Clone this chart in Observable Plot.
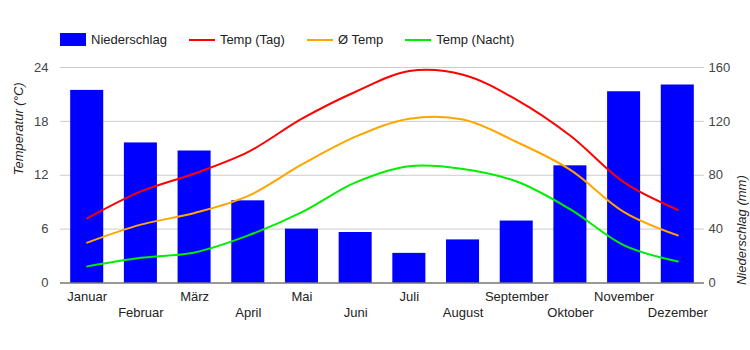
<!DOCTYPE html>
<html>
<head>
<meta charset="utf-8">
<script src="https://cdn.jsdelivr.net/npm/d3@7"></script>
<script src="https://cdn.jsdelivr.net/npm/@observablehq/plot@0.6"></script>
<style>
  body { margin: 0; background: #fff; font-family: Arial, "Liberation Sans", sans-serif; }
  #legend { position: relative; height: 50px; width: 750px; }
  #legend .row { position: absolute; left: 60px; top: 30px; height: 19px; display: flex; align-items: center; gap: 22px; font-size: 13px; color: #222; }
  #legend .item { display: flex; align-items: center; gap: 5px; }
  #legend .sw-rect { width: 26px; height: 13px; }
  #legend .sw-line { width: 26px; height: 2px; }
</style>
</head>
<body>
<div id="legend"><div class="row"></div></div>
<div id="chart"></div>
<script>
const months = ["Januar","Februar","März","April","Mai","Juni","Juli","August","September","Oktober","November","Dezember"];
const precip = [143, 104, 98, 61, 40, 37.5, 22, 32, 46, 87, 142, 147];
const tempDay = [7.2, 10.2, 12.2, 14.6, 18.3, 21.3, 23.6, 23.2, 20.4, 16.4, 11.2, 8.15];
const tempAvg = [4.5, 6.5, 7.8, 9.7, 13.2, 16.3, 18.3, 18.2, 15.7, 12.6, 7.9, 5.3];
const tempNight = [1.85, 2.8, 3.4, 5.3, 7.9, 11.2, 13.0, 12.7, 11.3, 8.2, 4.2, 2.4];
const tempTicks = [0, 6, 12, 18, 24];
const precipMax = 160;
const tempMax = 24;

const seriesNames = ["Niederschlag", "Temp (Tag)", "Ø Temp", "Temp (Nacht)"];
const seriesColors = ["#0000ff", "#ff0000", "#ffa500", "#00ee00"];

const rows = months.map((m, i) => ({month: m, precip: precip[i], day: tempDay[i], avg: tempAvg[i], night: tempNight[i]}));
const toTemp = v => v * tempMax / precipMax;

// legend
const row = document.querySelector("#legend .row");
seriesNames.forEach((name, i) => {
  const item = document.createElement("div");
  item.className = "item";
  const sw = document.createElement("div");
  sw.className = i === 0 ? "sw-rect" : "sw-line";
  sw.style.background = seriesColors[i];
  const t = document.createElement("span");
  t.textContent = name;
  item.append(sw, t);
  row.append(item);
});

const chart = Plot.plot({
  width: 750,
  height: 300,
  marginLeft: 60,
  marginRight: 46,
  marginTop: 17,
  marginBottom: 67.5,
  style: {fontFamily: "Arial, 'Liberation Sans', sans-serif", fontSize: "13px", color: "#444", background: "#fff"},
  x: {type: "band", domain: months, paddingInner: 0.385, paddingOuter: 0.19, round: false},
  y: {domain: [0, tempMax]},
  marks: [
    Plot.gridY(tempTicks.slice(1), {stroke: "#cccccc", strokeOpacity: 1}),
    Plot.barY(rows, {x: "month", y: d => toTemp(d.precip), fill: seriesColors[0]}),
    Plot.ruleY([0], {stroke: "#333"}),
    Plot.lineY(rows, {x: "month", y: "night", stroke: seriesColors[3], strokeWidth: 2, curve: "catmull-rom"}),
    Plot.lineY(rows, {x: "month", y: "avg", stroke: seriesColors[2], strokeWidth: 2, curve: "catmull-rom"}),
    Plot.lineY(rows, {x: "month", y: "day", stroke: seriesColors[1], strokeWidth: 2, curve: "catmull-rom"}),
    Plot.axisY(tempTicks, {anchor: "left", tickSize: 0, tickPadding: 12, label: null}),
    Plot.axisY(tempTicks, {anchor: "right", tickSize: 0, tickPadding: 4, label: null, tickFormat: d => String(Math.round(d * precipMax / tempMax))}),
    Plot.axisX(months.filter((d, i) => i % 2 === 0), {anchor: "bottom", tickSize: 0, tickPadding: 9, label: null, fill: "#222"}),
    Plot.axisX(months.filter((d, i) => i % 2 === 1), {anchor: "bottom", tickSize: 0, tickPadding: 25, label: null, fill: "#222"}),
    Plot.text(["Temperatur (°C)"], {frameAnchor: "left", rotate: -90, dx: -42, fontStyle: "italic", fill: "#222", fontSize: 13}),
    Plot.text(["Niederschlag (mm)"], {frameAnchor: "right", rotate: -90, dx: 37, fontStyle: "italic", fill: "#222", fontSize: 13})
  ]
});
document.getElementById("chart").append(chart);
</script>
</body>
</html>
